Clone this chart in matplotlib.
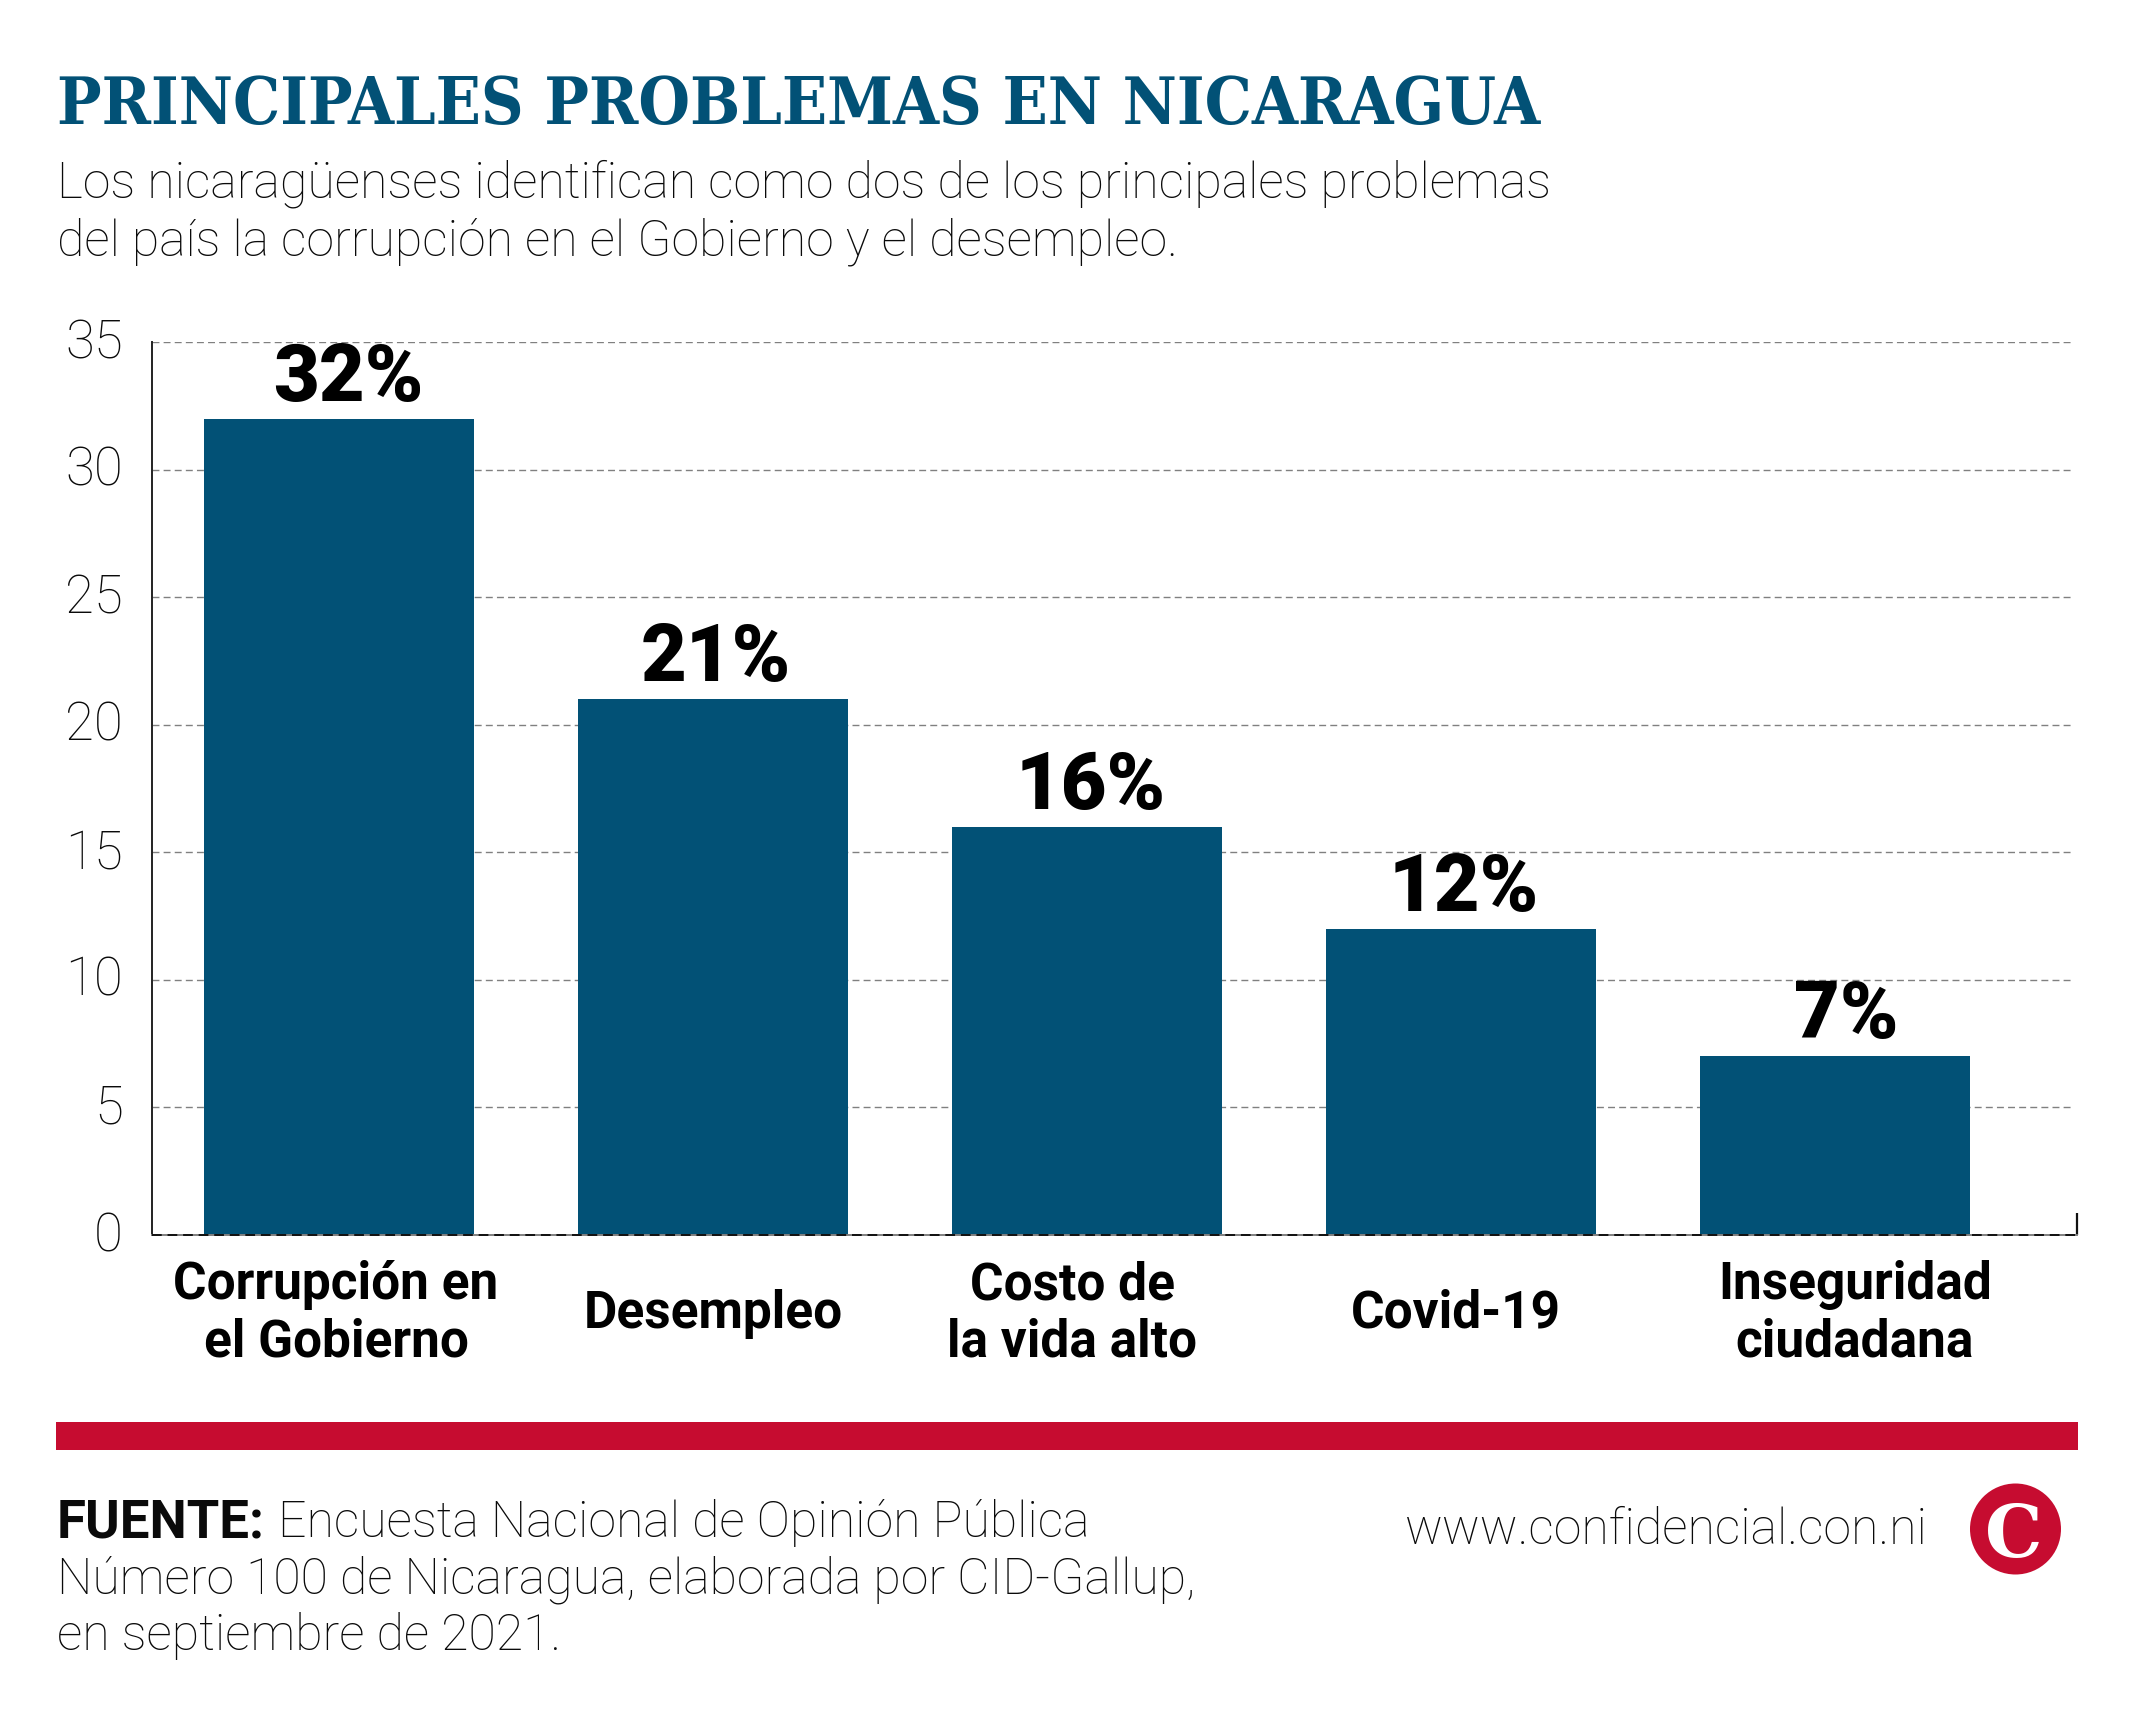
import matplotlib
matplotlib.use('Agg')
import matplotlib.pyplot as plt
from matplotlib.patches import Circle, Rectangle
from matplotlib.transforms import ScaledTranslation

# data
categorias = ['Corrupción en\nel Gobierno', 'Desempleo', 'Costo de\nla vida alto', 'Covid-19', 'Inseguridad\nciudadana']
valores = [32, 21, 16, 12, 7]
etiquetas = ['32%', '21%', '16%', '12%', '7%']
yticks = [0, 5, 10, 15, 20, 25, 30, 35]

titulo = 'PRINCIPALES PROBLEMAS EN NICARAGUA'
subtitulo = ['Los nicaragüenses identifican como dos de los principales problemas',
             'del país la corrupción en el Gobierno y el desempleo.']
fuente = ['Encuesta Nacional de Opinión Pública',
          'Número 100 de Nicaragua, elaborada por CID-Gallup,',
          'en septiembre de 2021.']
web = 'www.confidencial.con.ni'

AZUL = '#025176'
ROJO = '#c60c30'
NEGRO = '#0a0a0a'
W, H = 2134, 1709

# small shifts of the labels against their bar, in pixels
dx_valor = [9, 3, 4, 3, 11]
dx_cat = [-3, 0, -15, -5, 20]

fig = plt.figure(figsize=(W / 100, H / 100), dpi=100, facecolor='white')

# layer in pixel coordinates for everything around the chart
bg = fig.add_axes([0, 0, 1, 1])
bg.set_xlim(0, W)
bg.set_ylim(H, 0)
bg.axis('off')

ax = fig.add_axes([152 / W, 1 - 1235 / H, (2077 - 152) / W, (1235 - 342) / H])
ax.patch.set_alpha(0)

x = list(range(len(valores)))
xmin, xmax = -0.5, 4.647
ax.hlines(yticks[1:], xmin, 4.63, color='#808080', lw=1.0, linestyle=(0, (5, 3)), zorder=1)
ax.bar(x, valores, width=0.72, color=AZUL, zorder=2)
ax.set_xlim(xmin, xmax)
ax.set_ylim(0, 35)

for s in ['top', 'right']:
    ax.spines[s].set_visible(False)
ax.spines['left'].set_color('#222222')
ax.spines['left'].set_linewidth(1.4)
ax.spines['bottom'].set_color('#808080')
ax.spines['bottom'].set_linewidth(1.4)
ax.axhline(0, color='#111111', lw=1.4, linestyle=(0, (5, 3)), zorder=3, clip_on=False)
ax.vlines(xmax, 0, 0.86, color='#111111', lw=1.6, clip_on=False)

ax.set_xticks([])
ax.set_yticks(yticks)
ax.tick_params(axis='y', length=0, pad=21)
for lab in ax.get_yticklabels():
    lab.set_fontfamily('Roboto')
    lab.set_fontweight('light')
    lab.set_fontsize(38)
    lab.set_color(NEGRO)
    lab.set_transform(lab.get_transform() + ScaledTranslation(0, 3 / 72, fig.dpi_scale_trans))

for i in x:
    ax.annotate(etiquetas[i], xy=(i, valores[i]), xytext=(dx_valor[i], 18), textcoords='offset pixels',
                ha='center', va='baseline', family='Roboto', weight='black', fontsize=57, color='black')
    ax.annotate(categorias[i], xy=(i, 0), xytext=(dx_cat[i], -79), textcoords='offset pixels',
                ha='center', va='center', family='Roboto', weight='bold', fontsize=37, color='black',
                linespacing=1.2, annotation_clip=False)

# title block
bg.text(57, 124, titulo, family='DejaVu Serif', stretch='condensed', weight='bold', fontsize=47.5, color=AZUL, va='baseline')
bg.text(57, 198, subtitulo[0], family='Roboto', weight='light', fontsize=36, color=NEGRO, va='baseline')
bg.text(57, 255, subtitulo[1], family='Roboto', weight='light', fontsize=36, color=NEGRO, va='baseline')

# red band and footer
bg.add_patch(Rectangle((56, 1422), 2078 - 56, 28, color=ROJO, lw=0))
bg.text(57, 1537, 'FUENTE:', family='Roboto', weight='bold', fontsize=38, color=NEGRO, va='baseline')
bg.text(278, 1537, fuente[0], family='Roboto', weight='light', fontsize=36, color=NEGRO, va='baseline')
bg.text(57, 1594, fuente[1], family='Roboto', weight='light', fontsize=36, color=NEGRO, va='baseline')
bg.text(57, 1650, fuente[2], family='Roboto', weight='light', fontsize=36, color=NEGRO, va='baseline')
bg.text(1928, 1544, web, family='Roboto', weight='light', fontsize=36, color=NEGRO, va='baseline', ha='right')

# logo
bg.add_patch(Circle((2015.5, 1529), 45.5, color=ROJO, lw=0))
bg.text(2014, 1529, 'C', family='DejaVu Serif', weight='bold', fontsize=52, color='white', ha='center', va='center_baseline')

fig.savefig('out.png', dpi=100, facecolor='white')
